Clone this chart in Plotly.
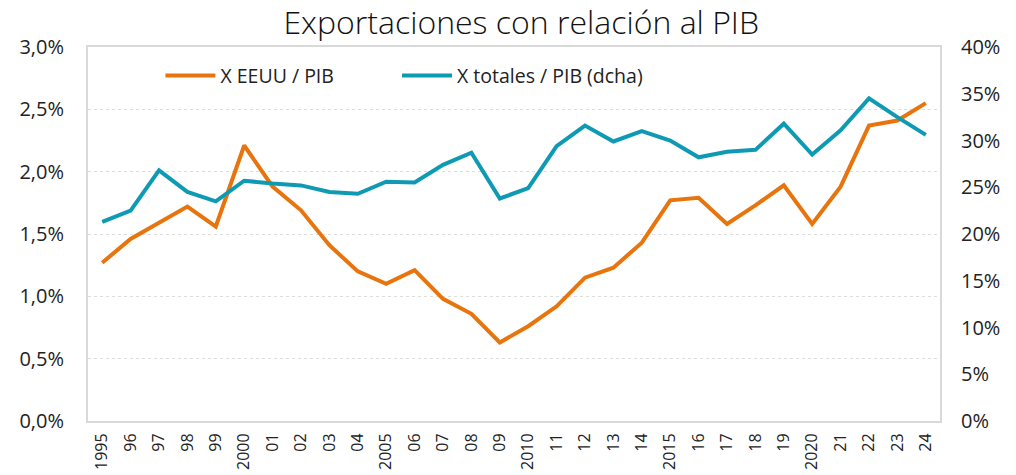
import plotly.graph_objects as go

years = list(range(1995, 2025))
tick_labels = ["1995", "96", "97", "98", "99", "2000", "01", "02", "03", "04",
               "2005", "06", "07", "08", "09", "2010", "11", "12", "13", "14",
               "2015", "16", "17", "18", "19", "2020", "21", "22", "23", "24"]

# X EEUU / PIB (%, left axis)
x_eeuu = [1.27, 1.46, 1.59, 1.72, 1.56, 2.21, 1.88, 1.69, 1.41, 1.20,
          1.10, 1.21, 0.98, 0.86, 0.63, 0.76, 0.92, 1.15, 1.23, 1.43,
          1.77, 1.79, 1.58, 1.73, 1.89, 1.58, 1.88, 2.37, 2.41, 2.55]

# X totales / PIB (%, right axis)
x_totales = [21.3, 22.5, 26.8, 24.5, 23.5, 25.7, 25.4, 25.2, 24.5, 24.3,
             25.6, 25.5, 27.4, 28.7, 23.8, 24.9, 29.4, 31.6, 29.9, 31.0,
             30.0, 28.2, 28.8, 29.0, 31.8, 28.5, 31.1, 34.5, 32.5, 30.6]

orange = "#E8740E"
blue = "#0F9AB4"
font_family = "Open Sans, Noto Sans, sans-serif"

fig = go.Figure()
fig.add_trace(go.Scatter(
    x=years, y=[v / 100 for v in x_eeuu], name="X EEUU / PIB",
    mode="lines", line=dict(color=orange, width=4), yaxis="y", legend="legend"))
fig.add_trace(go.Scatter(
    x=years, y=[v / 100 for v in x_totales], name="X totales / PIB (dcha)",
    mode="lines", line=dict(color=blue, width=4), yaxis="y2", legend="legend2"))

legend_style = dict(orientation="h", y=0.975, xanchor="left", yanchor="top",
                    bgcolor="rgba(0,0,0,0)", font=dict(size=19.5, color="#222222"),
                    itemwidth=50)

fig.update_layout(
    width=1016, height=475,
    margin=dict(l=88, r=76, t=47, b=54, autoexpand=False),
    paper_bgcolor="white", plot_bgcolor="white",
    separators=",.",
    font=dict(family=font_family, color="#222222"),
    title=dict(text="Exportaciones con relación al PIB", x=0.513, xanchor="center",
               y=0.953, yanchor="middle",
               font=dict(size=32, family=font_family, color="#111111", weight=300)),
    showlegend=True,
    legend=dict(x=0.085, **legend_style),
    legend2=dict(x=0.3627, **legend_style),
    xaxis=dict(range=[1994.5, 2024.5], tickmode="array", tickvals=years,
               ticktext=tick_labels, tickangle=-90, tickfont=dict(size=16),
               showgrid=False, zeroline=False, showline=True, mirror=True,
               linecolor="#D9D9D9", linewidth=2, ticks="", ticklabelstandoff=4,
               automargin=False),
    yaxis=dict(range=[0, 0.03], dtick=0.005, tickformat=".1%",
               tickfont=dict(size=20), showgrid=True, gridcolor="#DDDDDD",
               griddash="dot", gridwidth=1, zeroline=False, showline=True,
               mirror=True, linecolor="#D9D9D9", linewidth=2,
               ticklabelstandoff=18, automargin=False),
    yaxis2=dict(range=[0, 0.40], dtick=0.05, tickformat=".0%",
                tickfont=dict(size=20), overlaying="y", side="right",
                showgrid=False, zeroline=False, showline=False,
                ticklabelstandoff=20, automargin=False),
)

fig.write_html("out.html", config={"displayModeBar": False},
               post_script="document.body.style.margin='0';document.body.style.overflow='hidden';")
